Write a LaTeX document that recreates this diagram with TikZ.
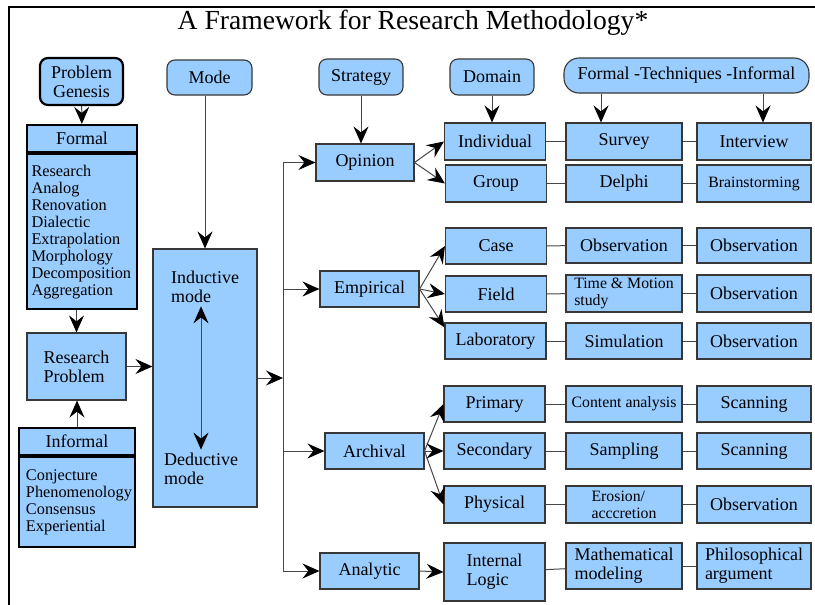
\documentclass[tikz,border=0pt]{standalone}
\usepackage{fontspec}
\setmainfont{Liberation Serif}
\usetikzlibrary{arrows.meta}
\definecolor{boxblue}{RGB}{153,204,255}
\definecolor{darkline}{RGB}{55,55,55}
\definecolor{linkgrey}{RGB}{70,70,70}

\begin{document}
\begin{tikzpicture}[x=1pt,y=-1pt,
        >={Stealth[length=17pt,width=15pt,inset=6pt,color=black]},
        box/.style={draw=darkline,fill=boxblue,line width=1.1pt,inner sep=3pt,minimum height=36pt,font=\fontsize{18}{19}\selectfont},
        head/.style={box,rounded corners=8pt,minimum width=84pt},
        thickline/.style={draw=black,line width=2.2pt},
        listfont/.style={font=\fontsize{16.3}{17}\selectfont},
        smallfont/.style={font=\fontsize{15.8}{17}\selectfont},
        stratbox/.style={box,minimum width=99pt},
        dombox/.style={box,minimum width=101pt},
        techbox/.style={box,minimum width=116pt},
        infbox/.style={box,minimum width=114pt},
        link/.style={draw=linkgrey,line width=1pt}]
        \useasboundingbox (0,0) rectangle (815,605);

        % Frame
        \draw[line width=2pt] (9,605) -- (9,7) -- (815,7);

        % Title
        \node[font=\fontsize{27.6}{30}\selectfont] (title) at (413,23) {A Framework for Research Methodology*};

        % Headers
        \node[head,thickline,minimum width=83pt,minimum height=47pt,align=center] (genesis) at (81.5,81.5) {Problem\\Genesis};
        \node[head,minimum width=85pt,minimum height=35pt] (mode) at (209.5,77.5) {Mode};
        \node[head] (strategy) at (361,77) {Strategy};
        \node[head] (domain) at (492,77) {Domain};
        \node[head,rounded corners=15pt,minimum width=245pt,minimum height=35pt] (techniques) at (686.5,75.5) {Formal -Techniques -Informal};

        % Problem
        \node[box,thickline,minimum width=110pt,minimum height=27pt] (formalhead) at (82,138.5) {Formal};
        \node[box,thickline,listfont,minimum width=110pt,minimum height=155pt,text width=101pt,align=left,anchor=north] (formalbody) at (formalhead.south)
            {Research\\Analog\\Renovation\\Dialectic\\Extrapolation\\Morphology\\Decomposition\\Aggregation};
        \node[box,minimum width=99pt,minimum height=67pt,align=left] (problem) at (76.5,366.5) {Research\\Problem};
        \node[box,thickline,minimum width=116pt,minimum height=27pt] (informalhead) at (77,441.5) {Informal};
        \node[box,thickline,listfont,minimum width=116pt,minimum height=90pt,text width=102pt,align=left,anchor=north] (informalbody) at (informalhead.south)
            {Conjecture\\Phenomenology\\Consensus\\Experiential};

        % Mode
        \node[box,minimum width=104pt,minimum height=258pt] (modebox) at (205,378) {};
        \node[align=left,font=\fontsize{18}{19}\selectfont] (inductive) at (205,287) {Inductive\\mode};
        \node[align=left,font=\fontsize{18}{19}\selectfont] (deductive) at (201,469) {Deductive\\mode};
        \draw[link,<->] (deductive.north |- inductive.south) -- (deductive.north);

        % Strategy
        \coordinate (bus) at (283,378);
        \node[stratbox,minimum width=98pt,minimum height=37pt] (opinion) at (365,162.5) {Opinion};
        \node[stratbox] (empirical) at (369.5,289) {Empirical};
        \node[stratbox] (archival) at (374.5,451) {Archival};
        \node[stratbox] (analytic) at (369.5,571) {Analytic};

        % Domain
        \node[dombox,minimum height=37pt] (individual) at (495,141.5) {Individual};
        \node[dombox,minimum height=37pt] (group) at (496,183.5) {Group};
        \node[dombox] (case) at (496,246) {Case};
        \node[dombox] (field) at (496,294) {Field};
        \node[dombox] (laboratory) at (495.5,341) {Laboratory};
        \node[dombox] (primary) at (494.5,404) {Primary};
        \node[dombox] (secondary) at (494.5,451) {Secondary};
        \node[dombox,minimum height=37pt] (physical) at (494.5,504.5) {Physical};
        \node[dombox,minimum height=58pt,align=left] (internal) at (494.5,572) {Internal\\Logic};

        % Formal techniques
        \node[techbox,minimum height=37pt] (survey) at (624,141.5) {Survey};
        \node[techbox,minimum height=37pt] (delphi) at (624,183.5) {Delphi};
        \node[techbox,minimum height=35pt] (observation) at (624,245.5) {Observation};
        \node[techbox,smallfont,minimum height=37pt,align=left] (timemotion) at (624,293.5) {Time \& Motion\\study};
        \node[techbox] (simulation) at (624,341) {Simulation};
        \node[techbox,smallfont] (content) at (624,404) {Content analysis};
        \node[techbox] (sampling) at (624,451) {Sampling};
        \node[techbox,smallfont,minimum height=37pt,align=left] (erosion) at (624,504.5) {Erosion/\\acccretion};
        \node[techbox,minimum height=46pt,align=left] (modeling) at (624,566) {Mathematical\\modeling};

        % Informal techniques
        \node[infbox,minimum height=37pt] (interview) at (754,141.5) {Interview};
        \node[infbox,smallfont,minimum height=37pt] (brainstorming) at (754,183.5) {Brainstorming};
        \node[infbox,minimum height=35pt] (caseobs) at (754,245.5) {Observation};
        \node[infbox,minimum height=37pt] (fieldobs) at (754,293.5) {Observation};
        \node[infbox] (labobs) at (754,341) {Observation};
        \node[infbox] (primaryscan) at (754,404) {Scanning};
        \node[infbox] (secondaryscan) at (754,451) {Scanning};
        \node[infbox,minimum height=37pt] (physicalobs) at (754,504.5) {Observation};
        \node[infbox,minimum height=46pt,align=left] (argument) at (754,566) {Philosophical\\argument};

        % Arrows
        \draw[link,->] (genesis) -- (formalhead);
        \draw[link,->] (formalbody.south -| problem.north) -- (problem.north);
        \draw[link,->] (informalhead.north) -- (informalhead.north |- problem.south);
        \draw[link,->] (problem.east) -- (problem.east -| modebox.west);
        \draw[link,->] (mode.south -| modebox.north) -- (modebox.north);
        \draw[link,->] (modebox.east) -- (bus);
        \draw[link,->] (strategy.south) -- (strategy.south |- opinion.north);
        \draw[link,->] (domain.south) -- (domain.south |- individual.north);
        \draw[link,->] ([xshift=-23pt]survey.north |- techniques.south) -- ([xshift=-23pt]survey.north);
        \draw[link,->] ([xshift=9pt]interview.north |- techniques.south) -- ([xshift=9pt]interview.north);

        % Bus
        \draw[link] (bus |- opinion.west) -- (bus |- analytic.west);
        \draw[link,->] (bus |- opinion.west) -- (opinion.west);
        \draw[link,->] (bus |- empirical.west) -- (empirical.west);
        \draw[link,->] (bus |- archival.west) -- (archival.west);
        \draw[link,->] (bus |- analytic.west) -- (analytic.west);

        % Strategy to domain
        \draw[link,->] (opinion.east) -- (individual.west);
        \draw[link,->] (opinion.east) -- (group.west);
        \draw[link,->] (empirical.east) -- (case.west);
        \draw[link,->] (empirical.east) -- (field.west);
        \draw[link,->] (empirical.east) -- (laboratory.165);
        \draw[link,->] (archival.east) -- (primary.west);
        \draw[link,->] (archival.east) -- (secondary.west);
        \draw[link,->] (archival.east) -- (physical.west);
        \draw[link,->] (analytic.east) -- (internal.west);

        % Rows
        \draw[link] (individual) -- (survey);
        \draw[link] (survey) -- (interview);
        \draw[link] (group) -- (delphi);
        \draw[link] (delphi) -- (brainstorming);
        \draw[link] (case) -- (observation);
        \draw[link] (observation) -- (caseobs);
        \draw[link] (field) -- (timemotion);
        \draw[link] (timemotion) -- (fieldobs);
        \draw[link] (laboratory) -- (simulation);
        \draw[link] (simulation) -- (labobs);
        \draw[link] (primary) -- (content);
        \draw[link] (content) -- (primaryscan);
        \draw[link] (secondary) -- (sampling);
        \draw[link] (sampling) -- (secondaryscan);
        \draw[link] (physical) -- (erosion);
        \draw[link] (erosion) -- (physicalobs);
        \draw[link] (internal) -- (modeling);
        \draw[link] (modeling) -- (argument);

\end{tikzpicture}
\end{document}
